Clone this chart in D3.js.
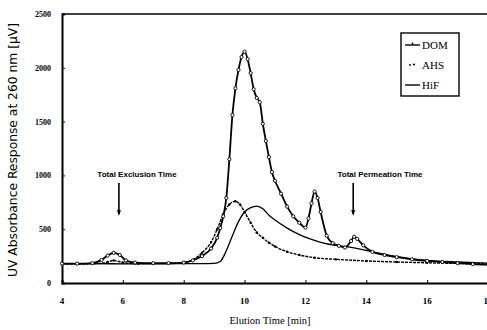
<!DOCTYPE html>
<html>
<head>
<meta charset="utf-8">
<script src="https://cdn.jsdelivr.net/npm/d3@7"></script>
<style>
  body { margin: 0; background: #fff; }
  svg { display: block; }
</style>
</head>
<body>
<div id="chart"></div>
<script>
// elution time (min) and UV response (µV)
const domTime = [4, 4.5, 5, 5.3, 5.5, 5.7, 5.9, 6.1, 6.4, 7, 7.5, 8, 8.3, 8.6, 8.9, 9.1, 9.2, 9.3, 9.4, 9.5, 9.6, 9.7, 9.8, 9.9, 10.0, 10.1, 10.2, 10.3, 10.4, 10.5, 10.6, 10.7, 10.8, 10.9, 11.0, 11.2, 11.4, 11.6, 11.8, 12.0, 12.1, 12.2, 12.3, 12.4, 12.5, 12.7, 12.9, 13.1, 13.3, 13.5, 13.6, 13.7, 13.9, 14.2, 14.6, 15, 15.5, 16, 16.5, 17, 17.5, 18];
const domValue = [180, 180, 185, 215, 255, 280, 260, 210, 190, 185, 185, 190, 210, 250, 320, 420, 510, 620, 790, 1150, 1560, 1810, 1980, 2100, 2150, 2080, 1950, 1800, 1720, 1680, 1480, 1320, 1170, 1030, 950, 830, 710, 620, 560, 515, 600, 740, 850, 790, 660, 440, 370, 345, 330, 390, 430, 410, 350, 290, 260, 240, 220, 205, 195, 185, 175, 170];

const ahsTime = [4, 5, 5.5, 5.7, 6, 6.5, 7, 7.5, 8, 8.3, 8.6, 8.9, 9.1, 9.3, 9.5, 9.7, 9.85, 10.0, 10.2, 10.4, 10.6, 10.8, 11.0, 11.4, 11.8, 12.3, 13, 14, 15, 16, 17, 18];
const ahsValue = [175, 178, 195, 210, 190, 180, 180, 182, 190, 215, 280, 380, 500, 640, 730, 760, 730, 660, 560, 470, 420, 375, 340, 290, 260, 235, 220, 205, 195, 188, 182, 178];

const hifTime = [4, 5, 6, 7, 8, 8.5, 9, 9.2, 9.4, 9.6, 9.8, 10.0, 10.2, 10.4, 10.6, 10.8, 11.0, 11.4, 11.8, 12.2, 12.6, 13.0, 13.4, 13.8, 14.2, 14.6, 15, 15.5, 16, 17, 18];
const hifValue = [180, 180, 178, 178, 180, 180, 182, 200, 300, 440, 570, 660, 700, 715, 690, 630, 585, 510, 450, 405, 370, 350, 335, 315, 290, 265, 245, 225, 210, 195, 185];

const xTicks = [4, 6, 8, 10, 12, 14, 16, 18];
const yTicks = [0, 500, 1000, 1500, 2000, 2500];
const seriesNames = ["DOM", "AHS", "HiF"];

const width = 487, height = 330;
const svg = d3.select("#chart").append("svg")
  .attr("width", width)
  .attr("height", height);

const x = d3.scaleLinear().domain([4, 18]).range([62, 488]);
const y = d3.scaleLinear().domain([0, 2500]).range([283, 14]);

// frame: top line
svg.append("line")
  .attr("x1", x(4)).attr("x2", x(18))
  .attr("y1", y(2500)).attr("y2", y(2500))
  .attr("stroke", "#000").attr("stroke-width", 1.6);

// y axis
const yAxis = svg.append("g")
  .attr("transform", `translate(${x(4)},0)`)
  .call(d3.axisRight(y).tickValues(yTicks).tickSize(3).tickFormat(""));
yAxis.select(".domain").attr("stroke-width", 2);

svg.selectAll("text.ytick")
  .data(yTicks)
  .enter().append("text")
  .attr("class", "ytick")
  .attr("x", 51)
  .attr("y", d => y(d) + 3)
  .attr("text-anchor", "end")
  .attr("font-family", "Liberation Serif")
  .attr("font-weight", "bold")
  .attr("font-size", 8)
  .text(d => d);

// x axis
const xAxis = svg.append("g")
  .attr("transform", `translate(0,${y(0)})`)
  .call(d3.axisTop(x).tickValues(xTicks).tickSize(3).tickFormat(""));
xAxis.select(".domain").attr("stroke-width", 2);

svg.selectAll("text.xtick")
  .data(xTicks)
  .enter().append("text")
  .attr("class", "xtick")
  .attr("x", d => x(d))
  .attr("y", 304)
  .attr("text-anchor", "middle")
  .attr("font-family", "Liberation Serif")
  .attr("font-weight", "bold")
  .attr("font-size", 9)
  .text(d => d);

// axis titles
svg.append("text")
  .attr("x", 270).attr("y", 324)
  .attr("text-anchor", "middle")
  .attr("font-family", "Liberation Serif")
  .attr("font-size", 10.5)
  .text("Elution Time [min]");

svg.append("text")
  .attr("transform", "translate(17,150) rotate(-90)")
  .attr("text-anchor", "middle")
  .attr("font-family", "DejaVu Sans")
  .attr("font-size", 12.3)
  .text("UV Absorbance Response at 260 nm [µV]");

// series
const line = d3.line().x(d => x(d[0])).y(d => y(d[1])).curve(d3.curveMonotoneX);
const domData = d3.zip(domTime, domValue);
const ahsData = d3.zip(ahsTime, ahsValue);
const hifData = d3.zip(hifTime, hifValue);

svg.append("path").datum(hifData)
  .attr("d", line).attr("fill", "none")
  .attr("stroke", "#000").attr("stroke-width", 1.3);

svg.append("path").datum(ahsData)
  .attr("d", line).attr("fill", "none")
  .attr("stroke", "#000").attr("stroke-width", 1.4)
  .attr("stroke-dasharray", "3,1");
svg.selectAll("circle.ahs").data(ahsData).enter().append("circle")
  .attr("class", "ahs")
  .attr("cx", d => x(d[0])).attr("cy", d => y(d[1]))
  .attr("r", 1.2).attr("fill", "#000");

svg.append("path").datum(domData)
  .attr("d", line).attr("fill", "none")
  .attr("stroke", "#000").attr("stroke-width", 1.8);
svg.selectAll("circle.dom").data(domData).enter().append("circle")
  .attr("class", "dom")
  .attr("cx", d => x(d[0])).attr("cy", d => y(d[1]))
  .attr("r", 1.6).attr("fill", "#fff")
  .attr("stroke", "#000").attr("stroke-width", 0.9);

// annotations
const notes = [
  { label: "Total Exclusion Time", t: 5.87, tx: 137 },
  { label: "Total Permeation Time", t: 13.57, tx: 380 }
];
notes.forEach(n => {
  svg.append("text")
    .attr("x", n.tx).attr("y", 177)
    .attr("text-anchor", "middle")
    .attr("font-family", "Liberation Sans Narrow, Liberation Sans")
    .attr("font-weight", "bold")
    .attr("font-size", 8)
    .text(n.label);
  svg.append("line")
    .attr("x1", x(n.t)).attr("x2", x(n.t))
    .attr("y1", 183).attr("y2", 214)
    .attr("stroke", "#000").attr("stroke-width", 1.6);
  svg.append("path")
    .attr("d", `M${x(n.t) - 2},${210} L${x(n.t) + 2},${210} L${x(n.t)},${216} Z`)
    .attr("fill", "#000");
});

// legend
const legend = svg.append("g").attr("transform", "translate(401,33)");
legend.append("rect")
  .attr("width", 58).attr("height", 63)
  .attr("fill", "#fff").attr("stroke", "#000").attr("stroke-width", 1.4);
seriesNames.forEach((name, i) => {
  const ly = 12 + i * 20;
  const g = legend.append("g").attr("transform", `translate(0,${ly})`);
  if (name === "DOM") {
    g.append("line").attr("x1", 4).attr("x2", 19).attr("y1", 0).attr("y2", 0)
      .attr("stroke", "#000").attr("stroke-width", 1.4);
    g.append("line").attr("x1", 11.5).attr("x2", 11.5).attr("y1", -2.5).attr("y2", 0)
      .attr("stroke", "#000").attr("stroke-width", 1.4);
  } else if (name === "AHS") {
    g.append("circle").attr("cx", 9).attr("cy", 0).attr("r", 0.9).attr("fill", "#000");
    g.append("circle").attr("cx", 13).attr("cy", -0.5).attr("r", 1.1).attr("fill", "#000");
  } else {
    g.append("line").attr("x1", 4).attr("x2", 19).attr("y1", 0).attr("y2", 0)
      .attr("stroke", "#000").attr("stroke-width", 1.4);
  }
  g.append("text")
    .attr("x", 21).attr("y", 4)
    .attr("font-family", "Liberation Serif")
    .attr("font-size", 11)
    .text(name);
});
</script>
</body>
</html>
